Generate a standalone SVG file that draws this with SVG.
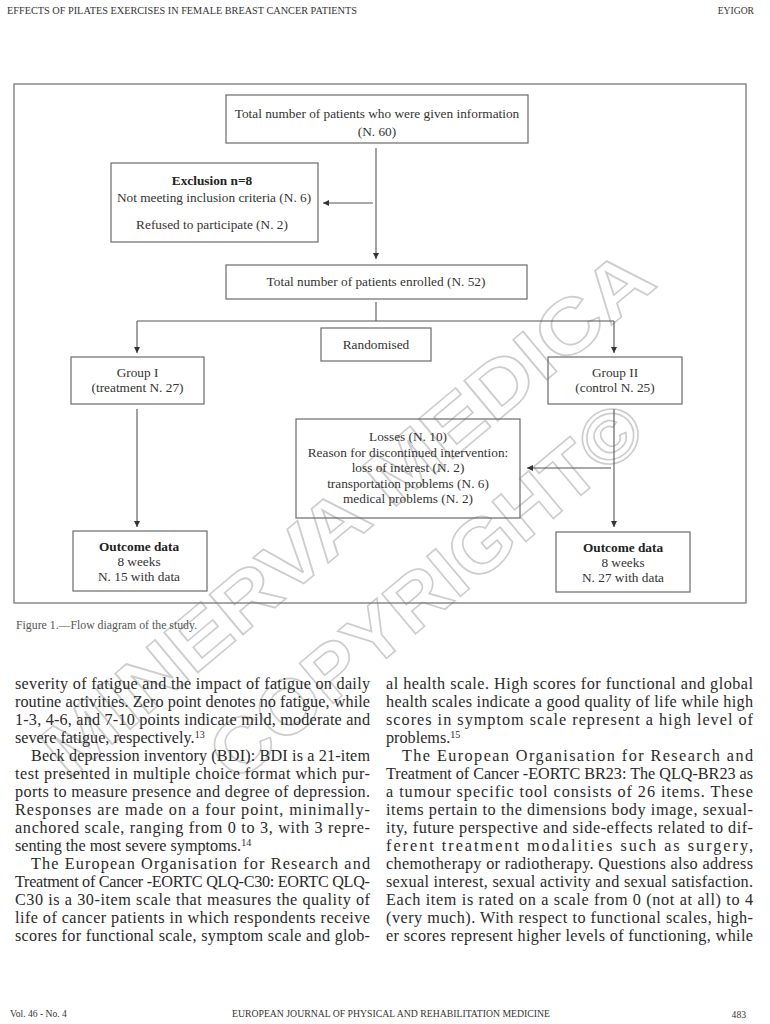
<svg xmlns="http://www.w3.org/2000/svg" width="770" height="1024" viewBox="0 0 770 1024">
<defs>
<style>
.box{fill:none;stroke:#6a6a6a;stroke-width:1.2}
.frame{fill:none;stroke:#777;stroke-width:1.3}
.t{font-family:"Liberation Serif","Times New Roman",serif;font-size:13.3px;fill:#333;text-anchor:middle}
.b{font-weight:bold;fill:#222}
.ln{fill:none;stroke:#555;stroke-width:1.1}
.body{font-family:"Liberation Serif","Times New Roman",serif;font-size:16.2px;fill:#2a2a2a}
.hdr{font-family:"Liberation Serif","Times New Roman",serif;font-size:9.6px;fill:#333}
.cap{font-family:"Liberation Serif","Times New Roman",serif;font-size:11.8px;fill:#555}
.wm{font-family:"Liberation Sans",Arial,sans-serif;font-weight:bold;font-size:76px;fill:none;stroke:#cdcdcd;stroke-width:1.6;text-anchor:middle}
</style>
<marker id="arr" viewBox="0 0 10 10" refX="10" refY="5" markerWidth="6" markerHeight="6" orient="auto" markerUnits="userSpaceOnUse">
<path d="M0,0 L10,5 L0,10 z" fill="#333"/>
</marker>
</defs>
<rect width="770" height="1024" fill="#fff"/>

<!-- watermark -->
<g id="watermark">
<text class="wm" transform="translate(364,533) rotate(-40)" textLength="770" lengthAdjust="spacingAndGlyphs">MINERVA MEDICA</text>
<text class="wm" transform="translate(443,611) rotate(-40)" textLength="540" lengthAdjust="spacingAndGlyphs">COPYRIGHT©</text>
</g>

<!-- header -->
<text class="hdr" x="7" y="14" textLength="350" lengthAdjust="spacingAndGlyphs">EFFECTS OF PILATES EXERCISES IN FEMALE BREAST CANCER PATIENTS</text>
<text class="hdr" x="754" y="14" text-anchor="end">EYIGOR</text>

<rect class="frame" x="14" y="84" width="732" height="519"/>

<g id="connectors">
<line class="ln" x1="376" y1="148" x2="376" y2="259" marker-end="url(#arr)"/>
<line class="ln" x1="373" y1="203" x2="323" y2="203" marker-end="url(#arr)"/>
<polyline class="ln" points="376,302 376,321"/>
<polyline class="ln" points="137,321 614,321"/>
<line class="ln" x1="137" y1="321" x2="137" y2="353" marker-end="url(#arr)"/>
<line class="ln" x1="614" y1="321" x2="614" y2="353" marker-end="url(#arr)"/>
<line class="ln" x1="137" y1="409" x2="137" y2="527" marker-end="url(#arr)"/>
<line class="ln" x1="614" y1="409" x2="614" y2="527" marker-end="url(#arr)"/>
<line class="ln" x1="611" y1="468" x2="527" y2="468" marker-end="url(#arr)"/>
</g>

<g id="n-info">
<rect class="box" x="226" y="95" width="302" height="48"/>
<text class="t" x="377" y="118">Total number of patients who were given information</text>
<text class="t" x="377" y="136">(N. 60)</text>
</g>

<g id="n-exclusion">
<rect class="box" x="111" y="163" width="207" height="79"/>
<text class="t b" x="212" y="185">Exclusion n=8</text>
<text class="t" x="214" y="202">Not meeting inclusion criteria (N. 6)</text>
<text class="t" x="212" y="229">Refused to participate (N. 2)</text>
</g>

<g id="n-enrolled">
<rect class="box" x="226" y="265" width="301" height="34"/>
<text class="t" x="376" y="286">Total number of patients enrolled (N. 52)</text>
</g>

<g id="n-randomised">
<rect class="box" x="321" y="328" width="110" height="33"/>
<text class="t" x="376" y="349">Randomised</text>
</g>

<g id="n-group1">
<rect class="box" x="71" y="357" width="133" height="47"/>
<text class="t" x="137.5" y="377">Group I</text>
<text class="t" x="137.5" y="392">(treatment N. 27)</text>
</g>

<g id="n-group2">
<rect class="box" x="548" y="357" width="134" height="47"/>
<text class="t" x="615" y="377">Group II</text>
<text class="t" x="615" y="392">(control N. 25)</text>
</g>

<g id="n-losses">
<rect class="box" x="296" y="419" width="224" height="99"/>
<text class="t" x="408" y="441">Losses (N. 10)</text>
<text class="t" x="408" y="456.5">Reason for discontinued intervention:</text>
<text class="t" x="408" y="472">loss of interest (N. 2)</text>
<text class="t" x="408" y="487.5">transportation problems (N. 6)</text>
<text class="t" x="408" y="503">medical problems (N. 2)</text>
</g>

<g id="n-outcome1">
<rect class="box" x="73" y="531" width="134" height="60"/>
<text class="t b" x="139" y="551">Outcome data</text>
<text class="t" x="139" y="566">8 weeks</text>
<text class="t" x="139" y="581">N. 15 with data</text>
</g>

<g id="n-outcome2">
<rect class="box" x="556" y="532" width="134" height="60"/>
<text class="t b" x="623" y="552">Outcome data</text>
<text class="t" x="623" y="567">8 weeks</text>
<text class="t" x="623" y="582">N. 27 with data</text>
</g>

<text class="cap" x="16" y="629">Figure 1.—Flow diagram of the study.</text>

<!-- left column -->
<g class="body">
<text x="15" y="689" textLength="355" lengthAdjust="spacing">severity of fatigue and the impact of fatigue on daily</text>
<text x="15" y="707" textLength="355" lengthAdjust="spacing">routine activities. Zero point denotes no fatigue, while</text>
<text x="15" y="725" textLength="355" lengthAdjust="spacing">1-3, 4-6, and 7-10 points indicate mild, moderate and</text>
<text x="15" y="743">severe fatigue, respectively.<tspan font-size="10" dy="-5">13</tspan></text>
<text x="31" y="761" textLength="339" lengthAdjust="spacing">Beck depression inventory (BDI): BDI is a 21-item</text>
<text x="15" y="779" textLength="355" lengthAdjust="spacing">test presented in multiple choice format which pur-</text>
<text x="15" y="797" textLength="355" lengthAdjust="spacing">ports to measure presence and degree of depression.</text>
<text x="15" y="815" textLength="355" lengthAdjust="spacing">Responses are made on a four point, minimally-</text>
<text x="15" y="833" textLength="355" lengthAdjust="spacing">anchored scale, ranging from 0 to 3, with 3 repre-</text>
<text x="15" y="851">senting the most severe symptoms.<tspan font-size="10" dy="-5">14</tspan></text>
<text x="31" y="869" textLength="339" lengthAdjust="spacing">The European Organisation for Research and</text>
<text x="15" y="887" textLength="355" lengthAdjust="spacing">Treatment of Cancer -EORTC QLQ-C30: EORTC QLQ-</text>
<text x="15" y="905" textLength="355" lengthAdjust="spacing">C30 is a 30-item scale that measures the quality of</text>
<text x="15" y="923" textLength="355" lengthAdjust="spacing">life of cancer patients in which respondents receive</text>
<text x="15" y="941" textLength="355" lengthAdjust="spacing">scores for functional scale, symptom scale and glob-</text>
</g>

<!-- right column -->
<g class="body">
<text x="386" y="689" textLength="367" lengthAdjust="spacing">al health scale. High scores for functional and global</text>
<text x="386" y="707" textLength="367" lengthAdjust="spacing">health scales indicate a good quality of life while high</text>
<text x="386" y="725" textLength="367" lengthAdjust="spacing">scores in symptom scale represent a high level of</text>
<text x="386" y="743">problems.<tspan font-size="10" dy="-5">15</tspan></text>
<text x="402" y="761" textLength="351" lengthAdjust="spacing">The European Organisation for Research and</text>
<text x="386" y="779" textLength="367" lengthAdjust="spacing">Treatment of Cancer -EORTC BR23: The QLQ-BR23 as</text>
<text x="386" y="797" textLength="367" lengthAdjust="spacing">a tumour specific tool consists of 26 items. These</text>
<text x="386" y="815" textLength="367" lengthAdjust="spacing">items pertain to the dimensions body image, sexual-</text>
<text x="386" y="833" textLength="367" lengthAdjust="spacing">ity, future perspective and side-effects related to dif-</text>
<text x="386" y="851" textLength="367" lengthAdjust="spacing">ferent treatment modalities such as surgery,</text>
<text x="386" y="869" textLength="367" lengthAdjust="spacing">chemotherapy or radiotherapy. Questions also address</text>
<text x="386" y="887" textLength="367" lengthAdjust="spacing">sexual interest, sexual activity and sexual satisfaction.</text>
<text x="386" y="905" textLength="367" lengthAdjust="spacing">Each item is rated on a scale from 0 (not at all) to 4</text>
<text x="386" y="923" textLength="367" lengthAdjust="spacing">(very much). With respect to functional scales, high-</text>
<text x="386" y="941" textLength="367" lengthAdjust="spacing">er scores represent higher levels of functioning, while</text>
</g>

<!-- footer -->
<text class="hdr" x="10" y="1017">Vol. 46 - No. 4</text>
<text class="hdr" x="391" y="1017" text-anchor="middle" textLength="318" lengthAdjust="spacingAndGlyphs">EUROPEAN JOURNAL OF PHYSICAL AND REHABILITATION MEDICINE</text>
<text class="hdr" x="746" y="1018" text-anchor="end" font-size="15">483</text>
</svg>
